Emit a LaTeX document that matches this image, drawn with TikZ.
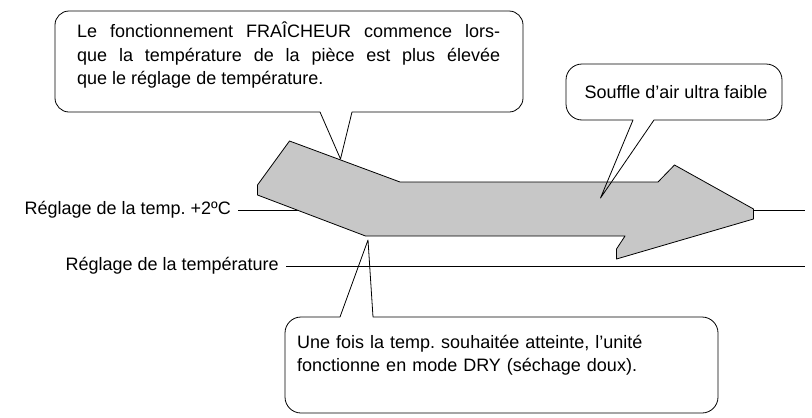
\documentclass[tikz,border=0pt]{standalone}
\usepackage{fontspec}
\setmainfont{Liberation Sans}
\usetikzlibrary{positioning}
\frenchspacing
\tikzset{bubble/.style={draw, thick, line join=round},
 flow/.style={draw, thick, fill=black!22, line join=round},
 level/.style={draw, thick},
 lbl/.style={font=\fontsize{18}{24}\selectfont, inner sep=0pt},
 txt/.style={font=\fontsize{18}{23.5}\selectfont, inner sep=0pt, align=justify}}
\begin{document}
\begin{tikzpicture}[x=1pt,y=-1pt]
\useasboundingbox (0,0) rectangle (812,418);

% levels
\node (lvlhi) [lbl, anchor=east] at (231,210) {Réglage de la temp. +2ºC};
\node (lvllo) [lbl, anchor=east] at (279,266) {Réglage de la température};
\coordinate (hiend) at (805,210);
\coordinate (loend) at (805,266);
\draw[level] ([xshift=7pt]lvlhi.east) -- (hiend);
\draw[level] ([xshift=7pt]lvllo.east) -- (loend);

% grey arrow
\draw[flow] (289.5,141) -- (257.5,185) -- (257.5,195) -- (365.5,236) -- (625,236) -- (616.5,249)
  -- (616.5,259) -- (753.5,219) -- (753.5,209) -- (674.5,165) -- (658,182) -- (400,182) -- cycle;

% callouts
\coordinate (tipa) at (340.5,159);
\coordinate (tipb) at (600.5,198);
\coordinate (tipc) at (368,240);
\draw[bubble] (320,112) -- (tipa) -- (352,112) [rounded corners=14pt] -- (523,112) -- (523,11)
  -- (55,11) -- (55,112) [sharp corners] -- cycle;
\draw[bubble] (633,120) -- (tipb) -- (654,120) [rounded corners=16pt] -- (782,120) -- (782,64)
  -- (566,64) -- (566,120) [sharp corners] -- cycle;
\draw[bubble] (340,317) -- (tipc) -- (373,317) [rounded corners=16pt] -- (718,317) -- (718,413)
  -- (285,413) -- (285,317) [sharp corners] -- cycle;

\node (noteA) [txt, text width=423pt, anchor=north west] at (77,22)
  {Le fonctionnement FRAÎCHEUR commence lors-\linebreak que la température de la pièce est plus élevée\linebreak que le réglage de température.};
\node (noteB) [lbl, anchor=center] at (676,92) {Souffle d'air ultra faible};
\node (noteC) [txt, text width=410pt, align=left, anchor=north west] at (297,335)
  {Une fois la temp. souhaitée atteinte, l'unité\\fonctionne en mode DRY (séchage doux).};
\end{tikzpicture}
\end{document}
